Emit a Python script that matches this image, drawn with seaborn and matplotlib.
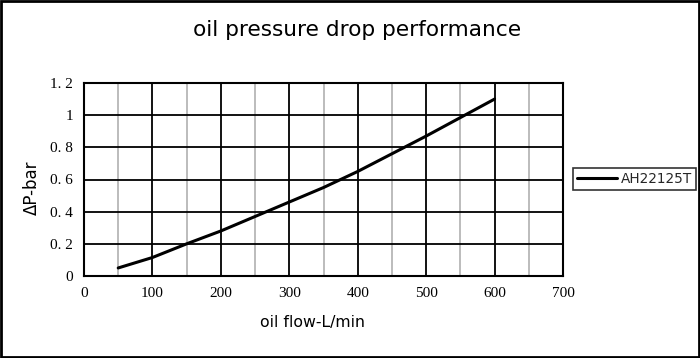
import matplotlib
matplotlib.use("Agg")
import matplotlib.pyplot as plt
import seaborn as sns
import pandas as pd
from matplotlib.ticker import MultipleLocator, FixedLocator
from matplotlib.patches import Rectangle

flow = [50, 100, 150, 200, 250, 300, 350, 400, 450, 500, 550, 600]
dp = [0.05, 0.115, 0.2, 0.28, 0.37, 0.46, 0.55, 0.65, 0.76, 0.87, 0.985, 1.10]
series_name = "AH22125T"
xticks = [0, 100, 200, 300, 400, 500, 600, 700]
yticks = [0, 0.2, 0.4, 0.6, 0.8, 1.0, 1.2]
ytick_labels = ["0", "0. 2", "0. 4", "0. 6", "0. 8", "1", "1. 2"]

sns.set_theme(style="white")
plt.rcParams['font.family'] = ['DejaVu Sans']

df = pd.DataFrame({"flow": flow, "dp": dp, "series": series_name})

fig = plt.figure(figsize=(7, 3.58), dpi=100)
ax = fig.add_axes([84/700, 1 - 276/358, (563-84)/700, (276-83)/358])

sns.lineplot(data=df, x="flow", y="dp", hue="series", palette=["black"],
             linewidth=2.2, ax=ax, legend=True)

ax.set_xlim(0, 700)
ax.set_ylim(0, 1.2)
ax.xaxis.set_major_locator(FixedLocator(xticks))
ax.xaxis.set_minor_locator(MultipleLocator(50))
ax.yaxis.set_major_locator(FixedLocator(yticks))
ax.set_yticklabels(ytick_labels)
ax.grid(which="minor", axis="x", color="#b0b0b0", linewidth=1.2)
ax.grid(which="major", axis="both", color="black", linewidth=1.3)
ax.set_axisbelow(True)
for s in ax.spines.values():
    s.set_color("black")
    s.set_linewidth(1.5)
ax.tick_params(which="both", length=0, pad=8, colors="black")
for lab in ax.get_xticklabels() + ax.get_yticklabels():
    lab.set_fontfamily("Liberation Serif")
    lab.set_fontsize(11)

ax.set_xlabel("oil flow-L/min", fontsize=11.3, color="black")
ax.xaxis.set_label_coords((312-84)/(563-84), -(323-276)/(276-83), transform=ax.transAxes)
ax.xaxis.label.set_va("center")
ax.set_ylabel("ΔP-bar", fontsize=12, color="black")
ax.yaxis.set_label_coords(-(84-32)/(563-84), (276-188)/(276-83), transform=ax.transAxes)
ax.yaxis.label.set_va("center")

fig.text(357/700, 1 - 30/358, "oil pressure drop performance", ha="center",
         va="center", fontsize=15.6, color="black")

leg = ax.legend(loc="center left", bbox_to_anchor=(573/700, 1 - 179/358),
                bbox_transform=fig.transFigure, frameon=True, fancybox=False,
                fontsize=9.8, handlelength=2.9, handletextpad=0.3,
                borderpad=0.3, borderaxespad=0)
leg.get_frame().set_edgecolor("black")
leg.get_frame().set_linewidth(1.2)

fig.patches.append(Rectangle((0.002, 0.003), 0.996, 0.994, transform=fig.transFigure,
                             fill=False, edgecolor="black", linewidth=2))

fig.savefig("out.png", dpi=100)
